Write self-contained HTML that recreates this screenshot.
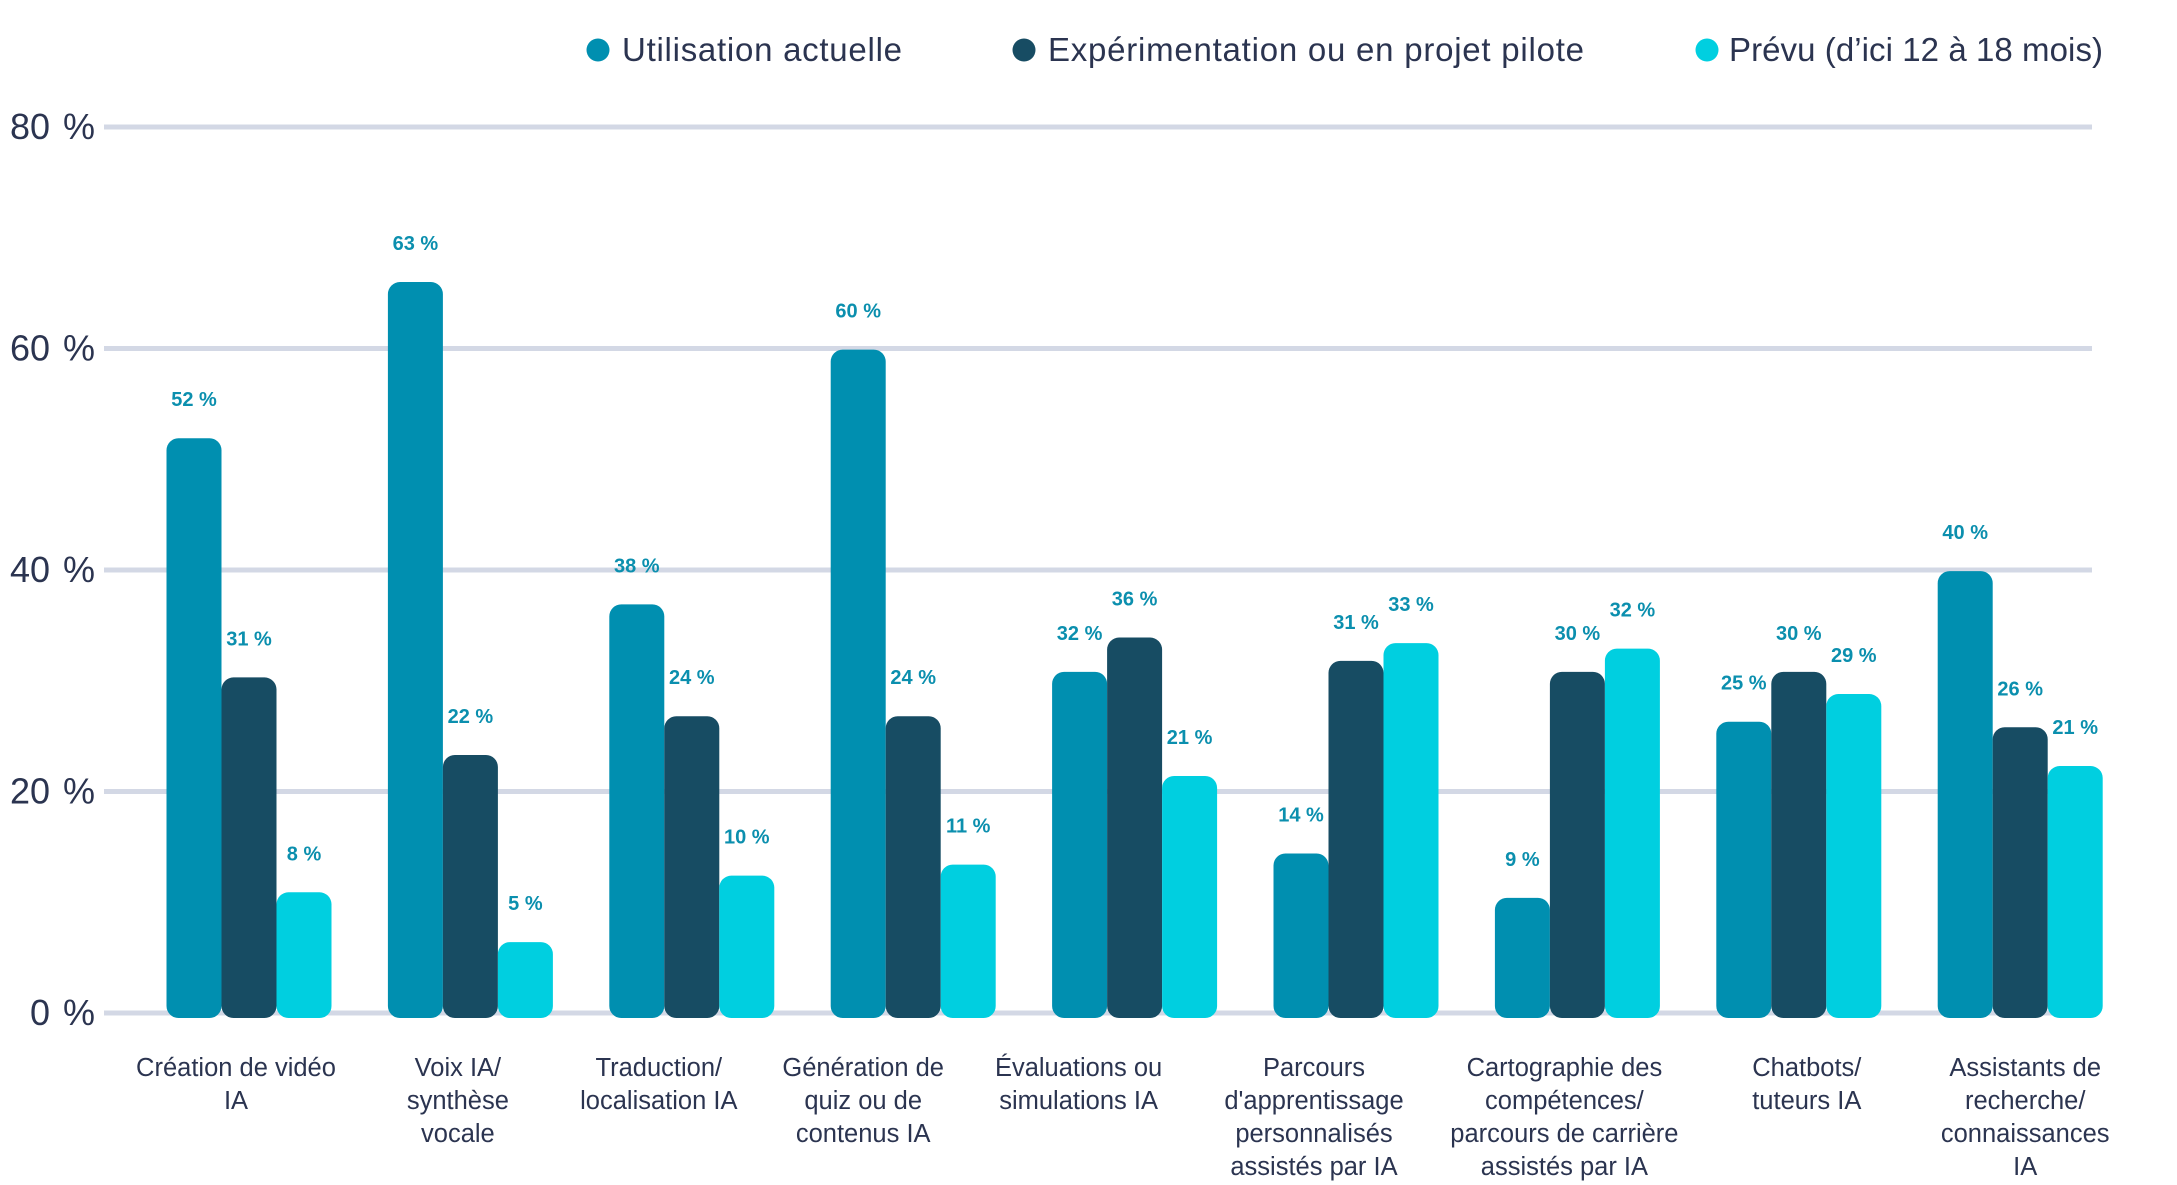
<!DOCTYPE html>
<html><head><meta charset="utf-8"><style>
html,body{margin:0;padding:0;background:#fff;}
svg{display:block;font-family:"Liberation Sans",sans-serif;}
</style></head><body>
<svg id="chart" width="2177" height="1185" viewBox="0 0 2177 1185" xmlns="http://www.w3.org/2000/svg">
<g id="legend">
  <g><circle cx="598" cy="50" r="11.5" fill="#008fb0"/><text x="622" y="61" font-size="33" fill="#2b3450" textLength="280">Utilisation actuelle</text></g>
  <g><circle cx="1024" cy="50" r="11.5" fill="#174c63"/><text x="1048" y="61" font-size="33" fill="#2b3450" textLength="536">Expérimentation ou en projet pilote</text></g>
  <g><circle cx="1707" cy="50" r="11.5" fill="#00cfe0"/><text x="1729" y="61" font-size="33" fill="#2b3450" textLength="374">Prévu (d’ici 12 à 18 mois)</text></g>
</g>
<g id="grid"></g>
<g id="yaxis"></g>
<g id="bars"></g>
<g id="vlabels"></g>
<g id="xaxis"></g>
</svg>
<script>
const categories = [
  ["Création de vidéo","IA"],
  ["Voix IA/","synthèse","vocale"],
  ["Traduction/","localisation IA"],
  ["Génération de","quiz ou de","contenus IA"],
  ["Évaluations ou","simulations IA"],
  ["Parcours","d'apprentissage","personnalisés","assistés par IA"],
  ["Cartographie des","compétences/","parcours de carrière","assistés par IA"],
  ["Chatbots/","tuteurs IA"],
  ["Assistants de","recherche/","connaissances","IA"]
];
const currentUse = [51.9, 66, 36.9, 59.9, 30.8, 14.4, 10.4, 26.3, 39.9];
const experimentation = [30.3, 23.3, 26.8, 26.8, 33.9, 31.8, 30.8, 30.8, 25.8];
const planned = [10.9, 6.4, 12.4, 13.4, 21.4, 33.4, 32.9, 28.8, 22.3];
const currentLabels = ["52 %","63 %","38 %","60 %","32 %","14 %","9 %","25 %","40 %"];
const experimentationLabels = ["31 %","22 %","24 %","24 %","36 %","31 %","30 %","30 %","26 %"];
const plannedLabels = ["8 %","5 %","10 %","11 %","21 %","33 %","32 %","29 %","21 %"];
const yTicks = [0, 20, 40, 60, 80];
const yTickLabels = ["0 %","20 %","40 %","60 %","80 %"];

const NS = "http://www.w3.org/2000/svg";
const y0 = 1013, yPerUnit = 886/80;
function yScale(v){ return y0 - v*yPerUnit; }
const groupStart = 166.5, groupStep = 221.4, barW = 55;
const labelShift = [-13,-12.5,-33,-50,-56,-42,-13,8,5];
function xScale(i, s){ return groupStart + i*groupStep + s*barW; }
function mk(tag, attrs, parent){ const e=document.createElementNS(NS,tag); for(const k in attrs) e.setAttribute(k, attrs[k]); parent.appendChild(e); return e; }

const grid = document.getElementById('grid'), yaxis = document.getElementById('yaxis');
yTicks.forEach((t,i)=>{
  const y = yScale(t);
  const l = mk('line',{x1:104,x2:2092,y1:y,y2:y,stroke:'#d3d8e5','stroke-width':5},grid);
  
  
  const tx = mk('text',{x:95,y:y+12,'text-anchor':'end','font-size':36,fill:'#2b3450','word-spacing':'3'},yaxis);
  tx.textContent = yTickLabels[i];
  
  
});

const series = [
  {vals:currentUse, labels:currentLabels, color:'#008fb0', name:'current'},
  {vals:experimentation, labels:experimentationLabels, color:'#174c63', name:'experimentation'},
  {vals:planned, labels:plannedLabels, color:'#00cfe0', name:'planned'}
];
const bars = document.getElementById('bars'), vl = document.getElementById('vlabels');
const barBottom = 1018;
series.forEach((s,si)=>{
  s.vals.forEach((v,i)=>{
    const x = xScale(i, si), top = yScale(v);
    const r = mk('rect',{x:x,y:top,width:barW,height:barBottom-top,rx:12,ry:12,fill:s.color},bars);
    
    
    const t = mk('text',{x:x+barW/2,y:top-32,'text-anchor':'middle','font-size':20,'font-weight':'bold',fill:'#0b8fae'},vl);
    t.textContent = s.labels[i];
    
    
  });
});

const xaxis = document.getElementById('xaxis');
categories.forEach((lines,i)=>{
  const cx = xScale(i,0) + 1.5*barW + labelShift[i];
  const t = mk('text',{x:cx,'text-anchor':'middle','font-size':25.5,fill:'#2b3450'},xaxis);
  
  
  lines.forEach((ln,j)=>{
    const ts = mk('tspan',{x:cx,y:1076+j*33},t);
    ts.textContent = ln;
  });
});
</script>
</body></html>
